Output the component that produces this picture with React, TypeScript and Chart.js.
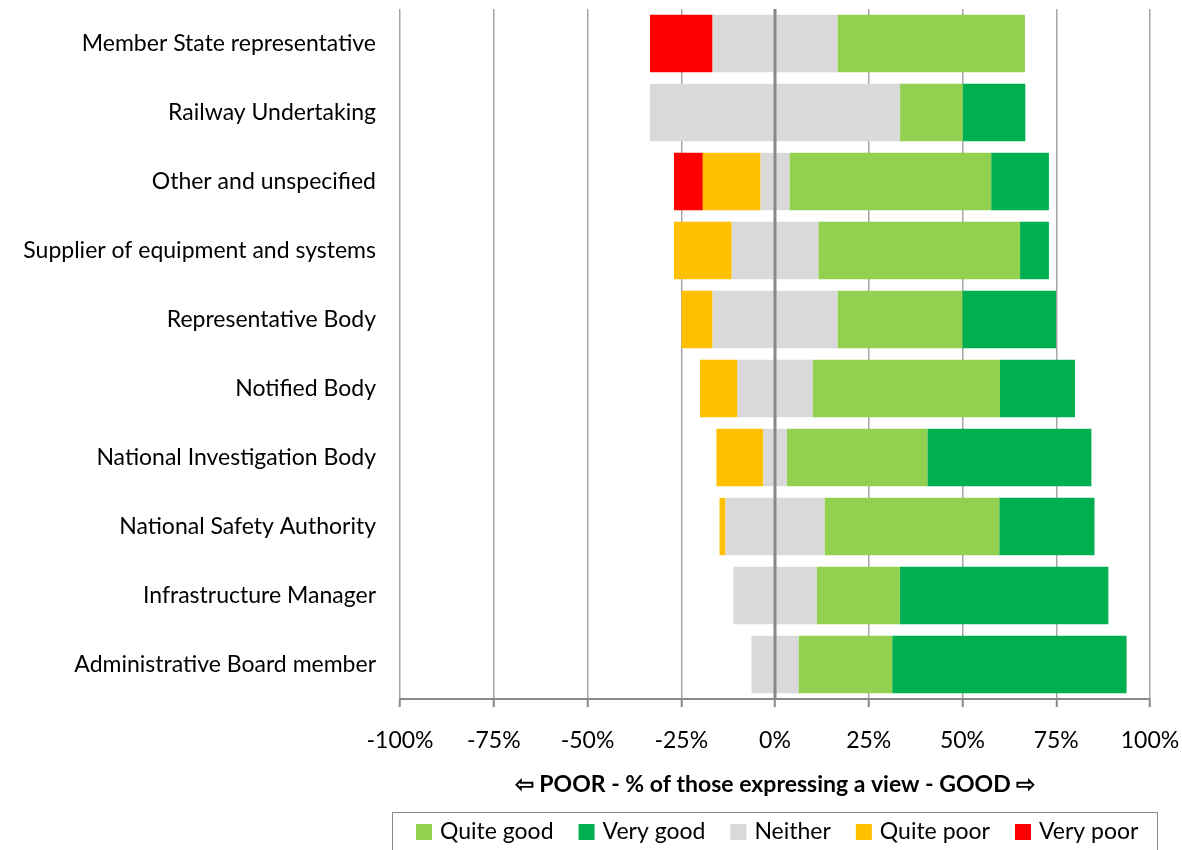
import React, { useEffect, useRef } from "react";
import { Chart, registerables } from "chart.js";

Chart.register(...registerables);

const categories = [
  "Member State representative",
  "Railway Undertaking",
  "Other and unspecified",
  "Supplier of equipment and systems",
  "Representative Body",
  "Notified Body",
  "National Investigation Body",
  "National Safety Authority",
  "Infrastructure Manager",
  "Administrative Board member",
];

// percentages of those expressing a view
const veryPoor = [16.7, 0, 7.7, 0, 0, 0, 0, 0, 0, 0];
const quitePoor = [0, 0, 15.4, 15.4, 8.3, 10, 12.5, 1.6, 0, 0];
const neither = [33.3, 66.7, 7.7, 23.1, 33.3, 20, 6.25, 26.4, 22.2, 12.5];
const quiteGood = [50, 16.7, 53.8, 53.8, 33.3, 50, 37.5, 46.6, 22.2, 25];
const veryGood = [0, 16.7, 15.4, 7.7, 25, 20, 43.75, 25.4, 55.6, 62.5];

const xTicks = [-100, -75, -50, -25, 0, 25, 50, 75, 100];

const legendItems = [
  { label: "Quite good", color: "#92D050" },
  { label: "Very good", color: "#00B050" },
  { label: "Neither", color: "#D9D9D9" },
  { label: "Quite poor", color: "#FFC000" },
  { label: "Very poor", color: "#FF0000" },
];

const FONT = "Lato, Carlito, 'Liberation Sans', sans-serif";
const FS = 23;

export default function App() {
  const ref = useRef<HTMLCanvasElement | null>(null);

  useEffect(() => {
    if (!ref.current) return;

    const overlay = {
      id: "overlay",
      afterDatasetsDraw(chart: any) {
        const { ctx, chartArea, scales } = chart;
        const x0 = scales.x.getPixelForValue(0);
        ctx.save();
        ctx.strokeStyle = "#898989";
        ctx.lineWidth = 3;
        ctx.beginPath();
        ctx.moveTo(x0, chartArea.top);
        ctx.lineTo(x0, chartArea.bottom);
        ctx.stroke();
        ctx.restore();
      },
      afterDraw(chart: any) {
        const { ctx } = chart;
        ctx.save();
        ctx.strokeStyle = "#898989";
        ctx.lineWidth = 1;
        ctx.strokeRect(392.5, 812.5, 765, 45);
        ctx.font = `${FS}px ${FONT}`;
        ctx.textBaseline = "middle";
        ctx.textAlign = "left";
        let x = 416;
        const cy = 832;
        for (const it of legendItems) {
          ctx.fillStyle = it.color;
          ctx.fillRect(x, cy - 8, 16, 16);
          x += 24;
          ctx.fillStyle = "#000";
          ctx.fillText(it.label, x, cy);
          x += ctx.measureText(it.label).width + 25;
        }
        ctx.restore();
      },
    };

    const neg = (a: number[]) => a.map((v) => -v);
    const half = (a: number[]) => a.map((v) => v / 2);

    const common = { barPercentage: 0.83, categoryPercentage: 1, borderWidth: 0 };

    const zeroPad = (s: any) => {
      s.paddingLeft = 0;
      s.paddingRight = 0;
      s.paddingTop = 0;
      s.paddingBottom = 0;
    };

    const chart = new Chart(ref.current, {
      type: "bar",
      data: {
        labels: categories,
        datasets: [
          { label: "Neither", data: neg(half(neither)), backgroundColor: "#D9D9D9", ...common },
          { label: "Quite poor", data: neg(quitePoor), backgroundColor: "#FFC000", ...common },
          { label: "Very poor", data: neg(veryPoor), backgroundColor: "#FF0000", ...common },
          { label: "Neither ", data: half(neither), backgroundColor: "#D9D9D9", ...common },
          { label: "Quite good", data: quiteGood, backgroundColor: "#92D050", ...common },
          { label: "Very good", data: veryGood, backgroundColor: "#00B050", ...common },
        ],
      },
      options: {
        indexAxis: "y",
        animation: false,
        responsive: false,
        maintainAspectRatio: false,
        layout: { padding: { top: 9, right: 32, left: 0, bottom: 0 } },
        plugins: {
          legend: { display: false },
          tooltip: { enabled: false },
        },
        scales: {
          x: {
            stacked: true,
            min: -100,
            max: 100,
            afterFit: (s: any) => {
              s.height = 151;
              zeroPad(s);
            },
            afterBuildTicks: (s: any) => {
              s.ticks = xTicks.map((v) => ({ value: v }));
            },
            ticks: {
              callback: (v: any) => `${v}%`,
              color: "#000",
              font: { family: FONT, size: FS },
              padding: 20,
              maxRotation: 0,
            },
            grid: {
              color: "#A6A6A6",
              lineWidth: 1.5,
              tickColor: "#898989",
              tickLength: 8,
              tickWidth: 2,
            },
            border: { display: true, color: "#898989", width: 2 },
            title: {
              display: true,
              text: "\u21E6 POOR - % of those expressing a view - GOOD \u21E8",
              color: "#000",
              font: { family: FONT, size: FS, weight: "bold" },
              padding: { top: 0, bottom: 52 },
            },
          },
          y: {
            stacked: true,
            afterFit: (s: any) => {
              s.width = 400;
              zeroPad(s);
            },
            ticks: {
              color: "#000",
              font: { family: FONT, size: FS },
              padding: 24,
            },
            grid: { display: false, drawTicks: false },
            border: { display: false },
          },
        },
      },
      plugins: [overlay],
    } as any);

    return () => chart.destroy();
  }, []);

  return (
    <div style={{ position: "fixed", left: 0, top: 0, width: 1182, height: 850, background: "#fff" }}>
      <canvas ref={ref} width={1182} height={850} style={{ width: 1182, height: 850 }} />
    </div>
  );
}
